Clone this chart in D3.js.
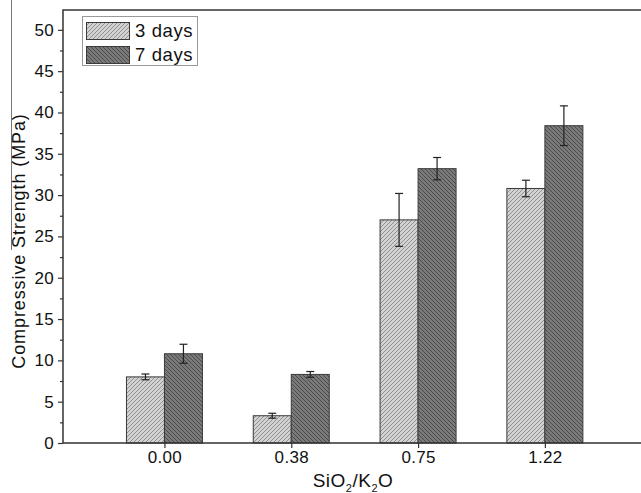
<!DOCTYPE html>
<html>
<head>
<meta charset="utf-8">
<script src="https://cdnjs.cloudflare.com/ajax/libs/d3/7.8.5/d3.min.js"></script>
<style>
  body { margin: 0; background: #fff; }
  svg { display: block; }
</style>
</head>
<body>
<svg id="chart"></svg>
<script>
// data
var categories = ["0.00", "0.38", "0.75", "1.22"];
var seriesNames = ["3 days", "7 days"];
var days3 = [8.0, 3.3, 27.0, 30.8];
var days3Err = [0.35, 0.3, 3.2, 1.0];
var days7 = [10.8, 8.3, 33.2, 38.4];
var days7Err = [1.15, 0.35, 1.35, 2.4];
var yTicks = [0, 5, 10, 15, 20, 25, 30, 35, 40, 45, 50];

var width = 641, height = 493;
var margin = { left: 63, top: 10, right: 1, bottom: 50 };
var axisColor = "#333333";
var fontFamily = "Arial, 'Liberation Sans', sans-serif";

var svg = d3.select("#chart").attr("width", width).attr("height", height);

// patterns
var defs = svg.append("defs");
function hatch(id, bg, line, dir) {
  var p = defs.append("pattern").attr("id", id)
    .attr("patternUnits", "userSpaceOnUse").attr("width", 4).attr("height", 4);
  p.append("rect").attr("width", 4).attr("height", 4).attr("fill", bg);
  var d = dir > 0 ? "M-1,1 l2,-2 M0,4 l4,-4 M3,5 l2,-2" : "M-1,3 l2,2 M0,0 l4,4 M3,-1 l2,2";
  p.append("path").attr("d", d).attr("stroke", line).attr("stroke-width", 1);
}
hatch("h3", "#d2d2d2", "#909090", 1);
hatch("h7", "#7a7a7a", "#4c4c4c", -1);
var fills = ["url(#h3)", "url(#h7)"];

var x = d3.scaleLinear().domain([0.2, 4.75]).range([margin.left, width - margin.right]);
var y = d3.scaleLinear().domain([0, 52.4]).range([443, margin.top]);
var barW = 38;

// scan artifact line at far left
svg.append("line").attr("x1", 11.5).attr("x2", 11.5).attr("y1", 0).attr("y2", 250)
  .attr("stroke", "#777").attr("stroke-width", 1);

// bars
var series = [days3, days7];
var errs = [days3Err, days7Err];
series.forEach(function(vals, s) {
  var g = svg.append("g");
  g.selectAll("rect").data(vals).enter().append("rect")
    .attr("x", function(d, i) { return x(i + 1) + (s === 0 ? -barW : 0); })
    .attr("y", function(d) { return y(d); })
    .attr("width", barW)
    .attr("height", function(d) { return y(0) - y(d); })
    .attr("fill", fills[s])
    .attr("stroke", "#3a3a3a").attr("stroke-width", 1);

  // error bars
  var eg = svg.append("g").attr("stroke", "#222").attr("stroke-width", 1.2);
  vals.forEach(function(v, i) {
    var cx = x(i + 1) + (s === 0 ? -barW / 2 : barW / 2);
    var e = errs[s][i];
    eg.append("line").attr("x1", cx).attr("x2", cx).attr("y1", y(v + e)).attr("y2", y(v - e));
    eg.append("line").attr("x1", cx - 4).attr("x2", cx + 4).attr("y1", y(v + e)).attr("y2", y(v + e));
    eg.append("line").attr("x1", cx - 4).attr("x2", cx + 4).attr("y1", y(v - e)).attr("y2", y(v - e));
  });
});

// y axis
var yAxis = svg.append("g").attr("transform", "translate(" + margin.left + ",0)")
  .call(d3.axisLeft(y).tickValues(yTicks).tickSize(5).tickPadding(4).tickFormat(d3.format("d")));
yAxis.select(".domain").remove();
svg.append("g").attr("transform", "translate(" + margin.left + ",0)")
  .call(d3.axisLeft(y).tickValues(d3.range(2.5, 52.5, 5)).tickSize(3).tickFormat(""))
  .select(".domain").remove();

// x axis
var xAxis = svg.append("g").attr("transform", "translate(0," + y(0) + ")")
  .call(d3.axisBottom(x).tickValues([1, 2, 3, 4]).tickSize(5).tickPadding(3)
    .tickFormat(function(d) { return categories[d - 1]; }));
xAxis.select(".domain").remove();

svg.selectAll(".tick line").attr("stroke", axisColor).attr("stroke-width", 1.2);
svg.selectAll(".tick text").attr("font-size", "17px").attr("font-family", fontFamily)
  .attr("fill", "#111").attr("letter-spacing", "0.3px");

// frame lines
svg.append("path")
  .attr("d", "M" + margin.left + "," + y(0) + "V" + margin.top + "H" + width + "M" + margin.left + "," + y(0) + "H" + width)
  .attr("fill", "none").attr("stroke", axisColor).attr("stroke-width", 1.5);

// axis titles
svg.append("text").attr("transform", "translate(25,241) rotate(-90)")
  .attr("text-anchor", "middle").attr("font-size", "18px").attr("font-family", fontFamily).attr("fill", "#111")
  .attr("letter-spacing", "0.9px")
  .text("Compressive Strength (MPa)");

var xt = svg.append("text").attr("x", 353).attr("y", 487).attr("text-anchor", "middle")
  .attr("font-size", "19px").attr("font-family", fontFamily).attr("fill", "#111").attr("letter-spacing", "0.5px");
xt.append("tspan").text("SiO");
xt.append("tspan").attr("font-size", "11px").attr("dy", 5).text("2");
xt.append("tspan").attr("dy", -5).text("/K");
xt.append("tspan").attr("font-size", "11px").attr("dy", 5).text("2");
xt.append("tspan").attr("dy", -5).text("O");

// legend
var lg = svg.append("g");
lg.append("rect").attr("x", 82.5).attr("y", 16.5).attr("width", 115).attr("height", 49)
  .attr("fill", "#fff").attr("stroke", "#999").attr("stroke-width", 1);
seriesNames.forEach(function(name, s) {
  var yy = 22 + s * 24;
  lg.append("rect").attr("x", 86.5).attr("y", yy + 0.5).attr("width", 43).attr("height", 17)
    .attr("fill", fills[s]).attr("stroke", "#3a3a3a");
  lg.append("text").attr("x", 135).attr("y", yy + 15).attr("font-size", "18.5px")
    .attr("font-family", fontFamily).attr("fill", "#111").attr("letter-spacing", "0.6px").text(name);
});
</script>
</body>
</html>
